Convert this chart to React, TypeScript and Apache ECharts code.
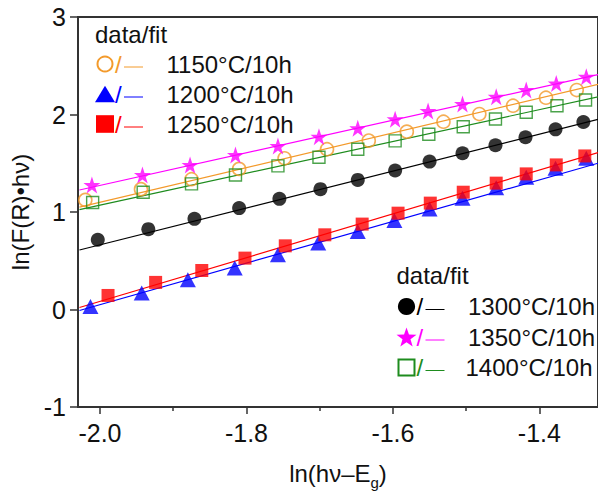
import React, { useEffect, useRef } from "react";
import * as echarts from "echarts";

// Axis ticks
const xTicks = [-2.0, -1.8, -1.6, -1.4];
const xMinorTicks = [-1.9, -1.7, -1.5, -1.3];
const yTicks = [-1, 0, 1, 2, 3];

// Measured data, ln(hν−Eg) vs ln(F(R)·hν)
const x1150 = [-2.020, -1.944, -1.875, -1.810, -1.748, -1.690, -1.633, -1.581, -1.531, -1.482, -1.436, -1.391, -1.349];
const y1150 = [1.124, 1.234, 1.336, 1.442, 1.551, 1.644, 1.732, 1.824, 1.926, 2.005, 2.090, 2.172, 2.251];

const x1200 = [-2.013, -1.943, -1.880, -1.816, -1.757, -1.702, -1.648, -1.598, -1.550, -1.505, -1.459, -1.418, -1.378, -1.336];
const y1200 = [0.032, 0.169, 0.305, 0.425, 0.561, 0.681, 0.800, 0.912, 1.032, 1.142, 1.250, 1.357, 1.449, 1.551];

const x1250 = [-1.989, -1.924, -1.861, -1.802, -1.747, -1.693, -1.642, -1.593, -1.549, -1.504, -1.459, -1.418, -1.377, -1.338];
const y1250 = [0.144, 0.278, 0.400, 0.527, 0.653, 0.766, 0.876, 0.988, 1.091, 1.203, 1.296, 1.391, 1.483, 1.575];

const x1300 = [-2.003, -1.934, -1.871, -1.810, -1.755, -1.699, -1.648, -1.597, -1.550, -1.505, -1.460, -1.419, -1.378, -1.340];
const y1300 = [0.715, 0.824, 0.930, 1.040, 1.135, 1.234, 1.329, 1.425, 1.517, 1.603, 1.685, 1.767, 1.848, 1.923];

const x1350 = [-2.011, -1.942, -1.877, -1.815, -1.757, -1.701, -1.648, -1.597, -1.552, -1.505, -1.459, -1.418, -1.377, -1.336];
const y1350 = [1.278, 1.380, 1.483, 1.585, 1.677, 1.773, 1.859, 1.951, 2.036, 2.108, 2.182, 2.251, 2.319, 2.387];

const x1400 = [-2.010, -1.941, -1.875, -1.815, -1.757, -1.701, -1.648, -1.597, -1.551, -1.504, -1.460, -1.418, -1.376, -1.337];
const y1400 = [1.097, 1.203, 1.288, 1.380, 1.473, 1.562, 1.644, 1.729, 1.797, 1.875, 1.954, 2.023, 2.090, 2.148];

// Linear fits, given by their end points
const fit1150 = [[-2.028, 1.05], [-1.32, 2.31]];
const fit1200 = [[-2.028, -0.01], [-1.32, 1.50]];
const fit1250 = [[-2.028, 0.02], [-1.32, 1.61]];
const fit1300 = [[-2.028, 0.61], [-1.32, 1.95]];
const fit1350 = [[-2.028, 1.226], [-1.32, 2.41]];
const fit1400 = [[-2.028, 1.025], [-1.32, 2.18]];

const labels = ["1150°C/10h", "1200°C/10h", "1250°C/10h", "1300°C/10h", "1350°C/10h", "1400°C/10h"];

const FONT = "'Liberation Sans', Arial, Helvetica, sans-serif";
const TEXT = "#111";
const ORANGE = "#F39A2B";
const BLUE = "#0000FF";
const RED = "#FF0000";
const BLACK = "#000000";
const MAGENTA = "#FF00FF";
const GREEN = "#1E8C1E";

const STAR_PATH =
  "path://M50,0 L61.8,35.1 L98.6,35.1 L68.8,56.7 L80.2,91.6 L50,70 L19.8,91.6 L31.2,56.7 L1.4,35.1 L38.2,35.1 Z";

const zip = (xs: number[], ys: number[]) => xs.map((x, i) => [x, ys[i]]);

function starPoints(cx: number, cy: number, R: number, r: number) {
  const pts: number[][] = [];
  for (let i = 0; i < 10; i++) {
    const a = -Math.PI / 2 + (i * Math.PI) / 5;
    const rad = i % 2 === 0 ? R : r;
    pts.push([cx + rad * Math.cos(a), cy + rad * Math.sin(a)]);
  }
  return pts;
}

type Marker = (cx: number, cy: number, color: string) => any;

const markerCircleOpen: Marker = (cx, cy, c) => ({
  type: "circle",
  shape: { cx, cy, r: 7.5 },
  style: { fill: "none", stroke: c, lineWidth: 2 },
});
const markerTriangle: Marker = (cx, cy, c) => ({
  type: "polygon",
  shape: { points: [[cx - 10, cy + 8.3], [cx + 10, cy + 8.3], [cx, cy - 8.3]] },
  style: { fill: c },
});
const markerSquare: Marker = (cx, cy, c) => ({
  type: "rect",
  shape: { x: cx - 9, y: cy - 8.8, width: 18, height: 17.6 },
  style: { fill: c },
});
const markerDot: Marker = (cx, cy, c) => ({
  type: "circle",
  shape: { cx, cy, r: 8.6 },
  style: { fill: c },
});
const markerStar: Marker = (cx, cy, c) => ({
  type: "polygon",
  shape: { points: starPoints(cx, cy + 1, 10.5, 4.2) },
  style: { fill: c },
});
const markerSquareOpen: Marker = (cx, cy, c) => ({
  type: "rect",
  shape: { x: cx - 8, y: cy - 8, width: 16, height: 16 },
  style: { fill: "none", stroke: c, lineWidth: 2 },
});

function legendBlock(
  x0: number,
  headerY: number,
  rows: { y: number; marker: Marker; color: string; label: string; labelX: number }[]
) {
  const els: any[] = [
    {
      type: "text",
      x: x0,
      y: headerY,
      style: { text: "data/fit", fontSize: 24, fontFamily: FONT, fill: TEXT, verticalAlign: "middle" },
    },
  ];
  rows.forEach((r) => {
    els.push(r.marker(x0 + 10, r.y, r.color));
    els.push({
      type: "text",
      x: x0 + 20,
      y: r.y,
      style: { text: "/", fontSize: 24, fontFamily: FONT, fill: r.color, verticalAlign: "middle" },
    });
    els.push({
      type: "line",
      shape: { x1: x0 + 29, y1: r.y + 3, x2: x0 + 48, y2: r.y + 3 },
      style: { stroke: r.color, lineWidth: 1 },
    });
    els.push({
      type: "text",
      x: r.labelX,
      y: r.y,
      style: { text: r.label, fontSize: 24, fontFamily: FONT, fill: TEXT, verticalAlign: "middle" },
    });
  });
  return els;
}

export default function App() {
  const ref = useRef<HTMLDivElement>(null);

  useEffect(() => {
    document.body.style.margin = "0";
    if (!ref.current) return;
    const chart = echarts.init(ref.current, undefined, { renderer: "svg" });

    const fitLine = (name: string, data: number[][], color: string) => ({
      name: name + " fit",
      type: "line",
      data,
      showSymbol: false,
      symbol: "none",
      silent: true,
      z: 2,
      lineStyle: { color, width: 1.2 },
    });
    const points = (name: string, data: number[][], extra: any) => ({
      name,
      type: "scatter",
      data,
      silent: true,
      z: 3,
      ...extra,
    });

    const option: any = {
      animation: false,
      backgroundColor: "#ffffff",
      grid: {
        left: 78,
        top: 17,
        width: 530,
        height: 390,
        show: true,
        borderColor: "#333",
        borderWidth: 2,
        backgroundColor: "transparent",
      },
      xAxis: [
        {
          type: "value",
          min: -2.03,
          max: -1.32,
          position: "bottom",
          axisLine: { show: true, onZero: false, lineStyle: { color: "#333", width: 2 } },
          axisTick: { show: true, customValues: xTicks, length: 7, lineStyle: { color: "#333", width: 1.5 } },
          axisLabel: {
            show: true,
            customValues: xTicks,
            formatter: (v: number) => v.toFixed(1),
            fontSize: 25,
            fontFamily: FONT,
            color: TEXT,
            margin: 13,
          },
          splitLine: { show: false },
          name: "{a|ln(hν–E}{b|g}{a|)}",
          nameLocation: "middle",
          nameGap: 50,
          nameTextStyle: {
            fontSize: 24,
            fontFamily: FONT,
            color: TEXT,
            rich: {
              a: { fontSize: 24, fontFamily: FONT, color: TEXT },
              b: { fontSize: 15, fontFamily: FONT, color: TEXT, padding: [18, 0, 0, 0] },
            },
          },
        },
        {
          type: "value",
          min: -2.03,
          max: -1.32,
          position: "bottom",
          axisLine: { show: false, onZero: false },
          axisTick: { show: true, customValues: xMinorTicks, length: 4, lineStyle: { color: "#333", width: 1.5 } },
          axisLabel: { show: false },
          splitLine: { show: false },
        },
      ],
      yAxis: {
        type: "value",
        min: -1,
        max: 3,
        interval: 1,
        axisLine: { show: true, onZero: false, lineStyle: { color: "#333", width: 2 } },
        axisTick: { show: true, length: 8, lineStyle: { color: "#333", width: 1.5 } },
        axisLabel: {
          fontSize: 25,
          fontFamily: FONT,
          color: TEXT,
          margin: 12,
          customValues: yTicks,
        },
        splitLine: { show: false },
        name: "ln(F(R)•hν)",
        nameLocation: "middle",
        nameRotate: 90,
        nameGap: 33,
        nameTextStyle: { fontSize: 24, fontFamily: FONT, color: TEXT },
      },
      series: [
        fitLine(labels[0], fit1150, ORANGE),
        fitLine(labels[1], fit1200, BLUE),
        fitLine(labels[2], fit1250, RED),
        fitLine(labels[3], fit1300, BLACK),
        fitLine(labels[4], fit1350, MAGENTA),
        fitLine(labels[5], fit1400, GREEN),
        points(labels[0], zip(x1150, y1150), {
          symbol: "circle",
          symbolSize: 13,
          itemStyle: { color: "transparent", borderColor: ORANGE, borderWidth: 1.6 },
        }),
        points(labels[1], zip(x1200, y1200), {
          symbol: "triangle",
          symbolSize: [16, 15],
          itemStyle: { color: BLUE },
        }),
        points(labels[2], zip(x1250, y1250), {
          symbol: "rect",
          symbolSize: 13,
          itemStyle: { color: RED },
        }),
        points(labels[3], zip(x1300, y1300), {
          symbol: "circle",
          symbolSize: 14,
          itemStyle: { color: BLACK },
        }),
        points(labels[4], zip(x1350, y1350), {
          symbol: STAR_PATH,
          symbolSize: 17,
          itemStyle: { color: MAGENTA },
        }),
        points(labels[5], zip(x1400, y1400), {
          symbol: "rect",
          symbolSize: 12,
          itemStyle: { color: "transparent", borderColor: GREEN, borderWidth: 1.4 },
        }),
      ],
      graphic: [
        ...legendBlock(95, 34.5, [
          { y: 64, marker: markerCircleOpen, color: ORANGE, label: labels[0], labelX: 166.5 },
          { y: 94, marker: markerTriangle, color: BLUE, label: labels[1], labelX: 166.5 },
          { y: 124, marker: markerSquare, color: RED, label: labels[2], labelX: 166.5 },
        ]),
        ...legendBlock(396.5, 275.5, [
          { y: 306.5, marker: markerDot, color: BLACK, label: labels[3], labelX: 468 },
          { y: 337, marker: markerStar, color: MAGENTA, label: labels[4], labelX: 468 },
          { y: 367.5, marker: markerSquareOpen, color: GREEN, label: labels[5], labelX: 465.5 },
        ]),
      ],
    };

    chart.setOption(option);
    return () => chart.dispose();
  }, []);

  return <div ref={ref} style={{ width: 598, height: 495 }} />;
}
